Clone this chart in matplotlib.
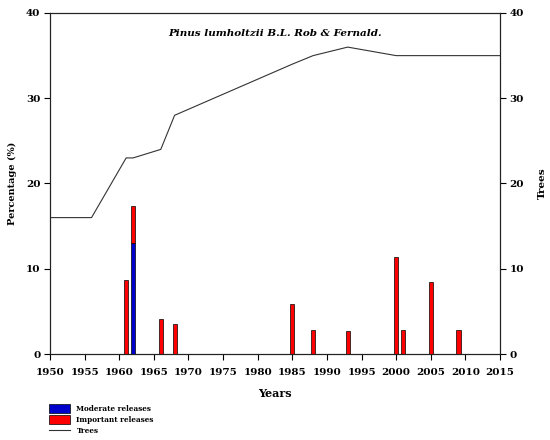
import matplotlib
matplotlib.use("Agg")
import matplotlib.pyplot as plt
from matplotlib.patches import Patch
from matplotlib.lines import Line2D

plt.rcParams['font.family'] = ['DejaVu Serif']
plt.rcParams['font.weight'] = 'bold'

# Release bars
bar_years = [1961, 1962, 1966, 1968, 1985, 1988, 1993, 2000, 2001, 2005, 2009]
moderate = [0, 13.0, 0, 0, 0, 0, 0, 0, 0, 0, 0]
important = [8.7, 4.4, 4.1, 3.5, 5.9, 2.8, 2.7, 11.4, 2.8, 8.5, 2.8]

# Trees line
tree_years = [1950, 1956, 1961, 1962, 1966, 1968, 1985, 1988, 1993, 2000, 2015]
trees = [16, 16, 23, 23, 24, 28, 34, 35, 36, 35, 35]

x_ticks = list(range(1950, 2016, 5))
y_ticks = [0, 10, 20, 30, 40]

fig = plt.figure(figsize=(5.5, 4.4), dpi=100)
ax = fig.add_axes([50/550, 1-354/440, 450/550, 341/440])
ax2 = ax.twinx()

ax.bar(bar_years, moderate, width=0.6, color='#0000CC', edgecolor='black', linewidth=0.5, zorder=3)
ax.bar(bar_years, important, width=0.6, bottom=moderate, color='#FF0000', edgecolor='black', linewidth=0.5, zorder=3)
ax2.plot(tree_years, trees, color='#333333', linewidth=0.8)

ax.set_xlim(1950, 2015)
ax.set_ylim(0, 40)
ax2.set_ylim(0, 40)
ax.set_xticks(x_ticks)
ax.set_yticks(y_ticks)
ax2.set_yticks(y_ticks)
for a in (ax, ax2):
    a.tick_params(direction='out', length=4, width=0.8, labelsize=7.5, pad=3)
    for s in a.spines.values():
        s.set_linewidth(0.8)
        s.set_color('#222222')
ax.tick_params(axis='x', pad=6)

ax.set_xlabel('Years', fontsize=8, fontweight='bold', labelpad=8)
ax.set_ylabel('Percentage (%)', fontsize=7, fontweight='bold', labelpad=6)
ax2.set_ylabel('Trees', fontsize=7.5, fontweight='bold', labelpad=10)

ax.text(1982.5, 37.6, 'Pinus lumholtzii B.L. Rob & Fernald.', fontsize=7.5,
        fontweight='bold', fontstyle='italic', ha='center', va='center')

handles = [Patch(facecolor='#0000CC', edgecolor='black', linewidth=0.5),
           Patch(facecolor='#FF0000', edgecolor='black', linewidth=0.5),
           Line2D([0], [0], color='#333333', linewidth=0.8)]
labels = ['Moderate releases', 'Important releases', 'Trees']
fig.legend(handles, labels, loc='upper left', bbox_to_anchor=(49/550, 1-404/440),
           frameon=False, fontsize=5.2, handlelength=2.9, handleheight=1.5,
           labelspacing=0.33, handletextpad=0.9, borderpad=0, borderaxespad=0)

fig.savefig('out.png', dpi=100)
